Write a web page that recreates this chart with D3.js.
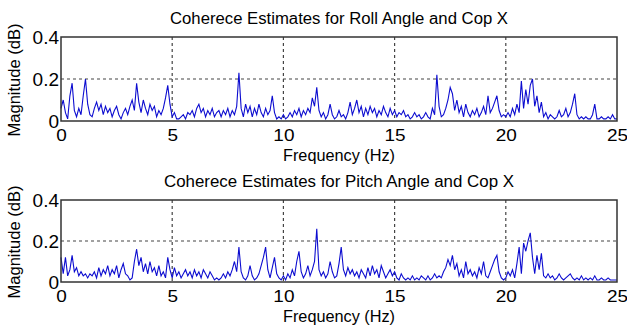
<!DOCTYPE html>
<html>
<head>
<meta charset="utf-8">
<script src="https://cdn.jsdelivr.net/npm/d3@7"></script>
<style>
  body { margin: 0; background: #fff; }
  svg text { font-family: "Liberation Sans", Arial, sans-serif; fill: #000; }
</style>
</head>
<body>
<div id="plot"></div>
<script>
// frequency step 0.1 Hz, 0..25
const step = 0.1;
const xTicks = [0, 5, 10, 15, 20, 25];
const yTicks = [0, 0.2, 0.4];

const rollCoh = [
  0.06,0.10,0.04,0.01,0.12,0.18,0.05,0.02,0.06,0.03,
  0.12,0.20,0.08,0.03,0.02,0.06,0.09,0.05,0.08,0.03,
  0.07,0.04,0.06,0.02,0.05,0.07,0.03,0.01,0.04,0.06,
  0.03,0.07,0.10,0.05,0.18,0.09,0.04,0.10,0.06,0.03,
  0.08,0.05,0.07,0.02,0.05,0.03,0.06,0.11,0.17,0.08,
  0.02,0.04,0.01,0.01,0.02,0.03,0.01,0.04,0.03,0.05,
  0.02,0.06,0.08,0.04,0.06,0.02,0.05,0.03,0.06,0.02,
  0.04,0.05,0.02,0.05,0.03,0.06,0.02,0.05,0.03,0.07,
  0.23,0.06,0.02,0.08,0.04,0.07,0.02,0.06,0.03,0.08,
  0.04,0.02,0.06,0.03,0.05,0.12,0.04,0.01,0.02,0.01,
  0.03,0.01,0.02,0.04,0.02,0.05,0.03,0.06,0.02,0.05,
  0.03,0.06,0.04,0.11,0.07,0.16,0.05,0.02,0.04,0.01,
  0.03,0.08,0.03,0.01,0.02,0.05,0.02,0.03,0.01,0.04,
  0.09,0.03,0.06,0.10,0.04,0.07,0.02,0.06,0.03,0.07,
  0.04,0.06,0.02,0.05,0.03,0.07,0.04,0.02,0.06,0.03,
  0.05,0.02,0.04,0.03,0.05,0.02,0.03,0.01,0.02,0.04,
  0.02,0.03,0.01,0.02,0.04,0.02,0.01,0.06,0.03,0.22,
  0.07,0.02,0.03,0.06,0.10,0.16,0.13,0.05,0.10,0.04,
  0.07,0.02,0.08,0.04,0.02,0.05,0.03,0.06,0.02,0.04,
  0.07,0.03,0.12,0.04,0.06,0.09,0.12,0.05,0.02,0.03,
  0.02,0.04,0.02,0.06,0.03,0.08,0.04,0.19,0.06,0.15,
  0.08,0.17,0.20,0.07,0.12,0.04,0.09,0.02,0.04,0.01,
  0.03,0.02,0.01,0.02,0.05,0.02,0.03,0.06,0.02,0.04,
  0.08,0.13,0.03,0.01,0.02,0.01,0.02,0.01,0.01,0.03,
  0.08,0.01,0.01,0.02,0.01,0.01,0.02,0.01,0.03,0.01,
  0.01
];

const pitchCoh = [
  0.12,0.04,0.12,0.03,0.06,0.13,0.05,0.07,0.03,0.05,
  0.03,0.04,0.02,0.04,0.03,0.05,0.02,0.07,0.03,0.06,
  0.04,0.08,0.03,0.06,0.04,0.08,0.02,0.06,0.09,0.04,
  0.03,0.01,0.02,0.10,0.16,0.08,0.12,0.05,0.09,0.04,
  0.10,0.05,0.07,0.03,0.08,0.03,0.05,0.02,0.12,0.06,
  0.02,0.07,0.03,0.05,0.02,0.04,0.06,0.03,0.05,0.02,
  0.06,0.03,0.05,0.02,0.06,0.04,0.02,0.05,0.03,0.01,
  0.02,0.01,0.02,0.04,0.02,0.05,0.03,0.06,0.10,0.05,
  0.17,0.05,0.02,0.01,0.03,0.08,0.03,0.01,0.02,0.04,
  0.08,0.12,0.17,0.06,0.02,0.07,0.12,0.04,0.02,0.01,
  0.03,0.01,0.04,0.02,0.06,0.03,0.10,0.15,0.05,0.02,
  0.04,0.08,0.03,0.06,0.10,0.26,0.06,0.03,0.05,0.02,
  0.04,0.10,0.05,0.02,0.03,0.09,0.17,0.06,0.03,0.07,
  0.04,0.06,0.03,0.05,0.02,0.06,0.04,0.02,0.07,0.03,
  0.08,0.04,0.06,0.02,0.08,0.05,0.02,0.04,0.06,0.03,
  0.05,0.02,0.01,0.04,0.02,0.01,0.02,0.01,0.03,0.01,
  0.02,0.01,0.03,0.02,0.01,0.03,0.01,0.02,0.04,0.02,
  0.03,0.02,0.05,0.07,0.11,0.08,0.13,0.06,0.09,0.03,
  0.06,0.02,0.10,0.04,0.06,0.03,0.05,0.02,0.07,0.04,
  0.10,0.03,0.02,0.05,0.08,0.11,0.13,0.05,0.02,0.01,
  0.02,0.05,0.03,0.06,0.02,0.09,0.17,0.04,0.19,0.15,
  0.20,0.24,0.12,0.04,0.13,0.06,0.14,0.03,0.02,0.04,
  0.02,0.03,0.01,0.02,0.04,0.02,0.01,0.02,0.03,0.04,
  0.02,0.01,0.02,0.01,0.03,0.01,0.02,0.01,0.02,0.01,
  0.03,0.01,0.01,0.02,0.01,0.01,0.02,0.01,0.01,0.01,
  0.01
];

const panels = [
  { title: "Coherece Estimates for Roll Angle and Cop X", titleLen: 338, values: rollCoh, top: 37, bottom: 121 },
  { title: "Coherece Estimates for Pitch Angle and Cop X", titleLen: 350, values: pitchCoh, top: 200, bottom: 282 }
];

const W = 627, H = 331;
const left = 61, right = 617;

const svg = d3.select("#plot").append("svg")
  .attr("width", W)
  .attr("height", H);

const x = d3.scaleLinear().domain([0, 25]).range([left, right]);

panels.forEach(p => {
  const y = d3.scaleLinear().domain([0, 0.4]).range([p.bottom, p.top]);
  const g = svg.append("g");

  // grid
  g.selectAll(".vgrid")
    .data(xTicks.slice(1, -1))
    .enter().append("line")
    .attr("x1", d => x(d)).attr("x2", d => x(d))
    .attr("y1", p.top).attr("y2", p.bottom)
    .attr("stroke", "#444").attr("stroke-width", 1.2)
    .attr("stroke-dasharray", "3,3");
  g.selectAll(".hgrid")
    .data(yTicks.slice(1, -1))
    .enter().append("line")
    .attr("x1", left).attr("x2", right)
    .attr("y1", d => y(d)).attr("y2", d => y(d))
    .attr("stroke", "#444").attr("stroke-width", 1.2)
    .attr("stroke-dasharray", "3,3");

  // series
  const line = d3.line()
    .x((d, i) => x(i * step))
    .y(d => y(d));
  g.append("path")
    .datum(p.values)
    .attr("d", line)
    .attr("fill", "none")
    .attr("stroke", "#0c0cd0")
    .attr("stroke-width", 1.1);

  // box
  g.append("rect")
    .attr("x", left).attr("y", p.top)
    .attr("width", right - left).attr("height", p.bottom - p.top)
    .attr("fill", "none")
    .attr("stroke", "#333").attr("stroke-width", 1.5);

  // axes
  const xAxis = g.append("g")
    .attr("transform", `translate(0,${p.bottom})`)
    .call(d3.axisBottom(x).tickValues(xTicks).tickSize(0).tickPadding(7).tickFormat(d3.format("d")));
  xAxis.select(".domain").remove();
  xAxis.selectAll("text")
    .attr("font-size", 19)
    .attr("font-family", "Liberation Sans, Arial, sans-serif")
    .attr("transform", "scale(1,0.85)")
    .attr("dy", "0.9em");

  const yAxis = g.append("g")
    .attr("transform", `translate(${left},0)`)
    .call(d3.axisLeft(y).tickValues(yTicks).tickSize(0).tickPadding(2).tickFormat(d => d === 0 ? "0" : d3.format(".1f")(d)));
  yAxis.select(".domain").remove();
  yAxis.selectAll("text")
    .attr("font-size", 19)
    .attr("font-family", "Liberation Sans, Arial, sans-serif");

  // title
  svg.append("text")
    .attr("x", 339).attr("y", p.top - 13)
    .attr("text-anchor", "middle")
    .attr("font-size", 16)
    .attr("textLength", p.titleLen)
    .attr("lengthAdjust", "spacingAndGlyphs")
    .text(p.title);

  // x label
  svg.append("text")
    .attr("x", 339).attr("y", p.bottom + 40)
    .attr("text-anchor", "middle")
    .attr("font-size", 16)
    .attr("textLength", 112)
    .attr("lengthAdjust", "spacingAndGlyphs")
    .text("Frequency (Hz)");

  // y label
  svg.append("text")
    .attr("transform", `translate(20,${(p.top + p.bottom) / 2 + 1}) rotate(-90)`)
    .attr("text-anchor", "middle")
    .attr("font-size", 16)
    .attr("textLength", 113)
    .attr("lengthAdjust", "spacingAndGlyphs")
    .text("Magnitude (dB)");
});
</script>
</body>
</html>
